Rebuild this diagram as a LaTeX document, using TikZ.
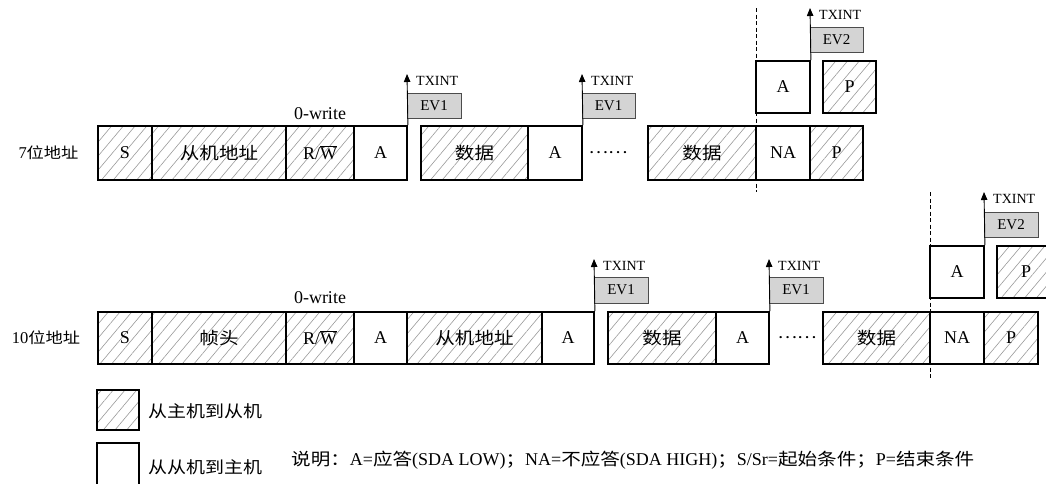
\documentclass[tikz,border=0pt]{standalone}
\usepackage{fontspec}
\setmainfont{Liberation Serif}
\newfontfamily\cjk[FakeStretch=1.15]{Noto Sans CJK SC}
\usetikzlibrary{patterns.meta,arrows.meta}
\begin{document}
\begin{tikzpicture}[x=1pt,y=-1pt,
  hb/.style={draw, line width=1.8pt, pattern={Lines[angle=50,distance=9pt,line width=0.6pt]}, pattern color=black!40, inner sep=0pt},
  wb/.style={draw, line width=1.8pt, fill=white, inner sep=0pt},
  r1/.style={minimum height=54pt},
  r2/.style={minimum height=52pt},
  lt/.style={font=\fontsize{18}{21}\selectfont},
  ct/.style={font=\cjk\fontsize{17}{20}\selectfont},
  ev/.style={draw=black!70, line width=1pt, fill=black!17, inner sep=0pt, minimum width=54pt, font=\fontsize{15}{17}\selectfont},
  tx/.style={anchor=west, inner sep=0pt, font=\fontsize{14}{16}\selectfont},
  up/.style={line width=0.9pt, -{Triangle[length=8pt,width=6.5pt]}},
  dsh/.style={line width=0.8pt, dash pattern=on 4pt off 2.5pt},
  lab/.style={inner sep=0pt},
  cn/.style={font=\cjk\fontsize{17}{20}\selectfont}
]
\clip (0,0) rectangle (1046,483);
% ---------- row 1 ----------
\coordinate (d1a) at (756,8);
\coordinate (d1b) at (756,192);
\draw[dsh] (d1a) -- (d1b);
\node[lab, font=\fontsize{16.5}{18}\selectfont] (l1) at (48.5,153) {7{\cjk\fontsize{15}{17}\selectfont 位地址}};
\node[lab, lt] (w1) at (320,114) {0-write};
\node[hb, r1, lt, minimum width=54pt] (s1) at (125,153) {S};
\node[hb, r1, ct, minimum width=134pt] (ad1) at (219,153) {从机地址};
\node[hb, r1, lt, minimum width=68pt] (rw1) at (320,153) {R/$\overline{\mbox{W}}$};
\node[wb, r1, lt, minimum width=53pt] (a1) at (380.5,153) {A};
\node[hb, r1, ct, minimum width=107pt] (da1) at (474.5,153) {数据};
\node[wb, r1, lt, minimum width=54pt] (a1b) at (555,153) {A};
\node[lab, font=\cjk\fontsize{16}{17}\selectfont] (dots1) at (608,153) {……};
\node[hb, r1, ct, minimum width=108pt] (db1) at (702,153) {数据};
\node[wb, r1, lt, minimum width=54pt] (na1) at (783,153) {NA};
\node[hb, r1, lt, minimum width=53pt] (p1) at (836.5,153) {P};
\node[wb, r2, lt, minimum width=54pt] (ua1) at (783,87) {A};
\node[hb, r2, lt, minimum width=53pt] (up1) at (849.5,87) {P};
\node[ev, minimum height=25pt] (e11) at (434,105.5) {EV1};
\node[ev, minimum height=25pt, minimum width=53pt] (e12) at (608.5,105.5) {EV1};
\node[ev, minimum height=25pt, minimum width=53pt] (e13) at (836.5,39.5) {EV2};
\coordinate (t11) at (407,74);
\coordinate (t12) at (582,74);
\coordinate (t13) at (810,8);
\draw[up] (a1.north east) -- (t11);
\draw[up] (a1b.north east) -- (t12);
\draw[up] (ua1.north east) -- (t13);
\node[tx] (x11) at (416,81) {TXINT};
\node[tx] (x12) at (591,81) {TXINT};
\node[tx] (x13) at (819,15) {TXINT};
% ---------- row 2 ----------
\coordinate (d2a) at (930,192);
\coordinate (d2b) at (930,380);
\draw[dsh] (d2a) -- (d2b);
\node[lab, font=\fontsize{16.5}{18}\selectfont] (l2) at (46,338) {10{\cjk\fontsize{15}{17}\selectfont 位地址}};
\node[lab, lt] (w2) at (320,298) {0-write};
\node[hb, r2, lt, minimum width=54pt] (s2) at (125,338) {S};
\node[hb, r2, ct, minimum width=134pt] (fh2) at (219,338) {帧头};
\node[hb, r2, lt, minimum width=68pt] (rw2) at (320,338) {R/$\overline{\mbox{W}}$};
\node[wb, r2, lt, minimum width=53pt] (a2) at (380.5,338) {A};
\node[hb, r2, ct, minimum width=135pt] (ad2) at (474.5,338) {从机地址};
\node[wb, r2, lt, minimum width=52pt] (a2b) at (568,338) {A};
\node[hb, r2, ct, minimum width=108pt] (da2) at (662,338) {数据};
\node[wb, r2, lt, minimum width=53pt] (a2c) at (742.5,338) {A};
\node[lab, font=\cjk\fontsize{16}{17}\selectfont] (dots2) at (797,338) {……};
\node[hb, r2, ct, minimum width=107pt] (db2) at (876.5,338) {数据};
\node[wb, r2, lt, minimum width=54pt] (na2) at (957,338) {NA};
\node[hb, r2, lt, minimum width=54pt] (p2) at (1011,338) {P};
\node[wb, r2, lt, minimum width=54pt] (ua2) at (957,272) {A};
\node[hb, r2, lt, minimum width=58pt] (up2) at (1026,272) {P};
\node[ev, minimum height=26pt] (e21) at (621,290) {EV1};
\node[ev, minimum height=26pt] (e22) at (796,290) {EV1};
\node[ev, minimum height=25pt] (e23) at (1011,224.5) {EV2};
\coordinate (t21) at (594,259);
\coordinate (t22) at (769,259);
\coordinate (t23) at (984,192);
\draw[up] (a2b.north east) -- (t21);
\draw[up] (a2c.north east) -- (t22);
\draw[up] (ua2.north east) -- (t23);
\node[tx] (x21) at (603,266) {TXINT};
\node[tx] (x22) at (778,266) {TXINT};
\node[tx] (x23) at (993,199) {TXINT};
% ---------- legend ----------
\node[hb, minimum width=42pt, minimum height=40pt] (lg1) at (118,410) {};
\node[wb, minimum width=42pt, minimum height=44pt] (lg2) at (118,465) {};
\node[lab, anchor=west, font=\cjk\fontsize{16.5}{19}\selectfont] (lt1) at (148,411) {从主机到从机};
\node[lab, anchor=west, font=\cjk\fontsize{16.5}{19}\selectfont] (lt2) at (148,467) {从从机到主机};
\node[lab, anchor=west, font=\fontsize{18}{21}\selectfont] (note) at (291,460)
  {{\cjk\fontsize{17}{20}\selectfont 说明：}A={\cjk\fontsize{17}{20}\selectfont 应答}(SDA LOW){\cjk\fontsize{17}{20}\selectfont ；}NA={\cjk\fontsize{17}{20}\selectfont 不应答}(SDA HIGH){\cjk\fontsize{17}{20}\selectfont ；}S/Sr={\cjk\fontsize{17}{20}\selectfont 起始条件；}P={\cjk\fontsize{17}{20}\selectfont 结束条件}};
\end{tikzpicture}
\end{document}
